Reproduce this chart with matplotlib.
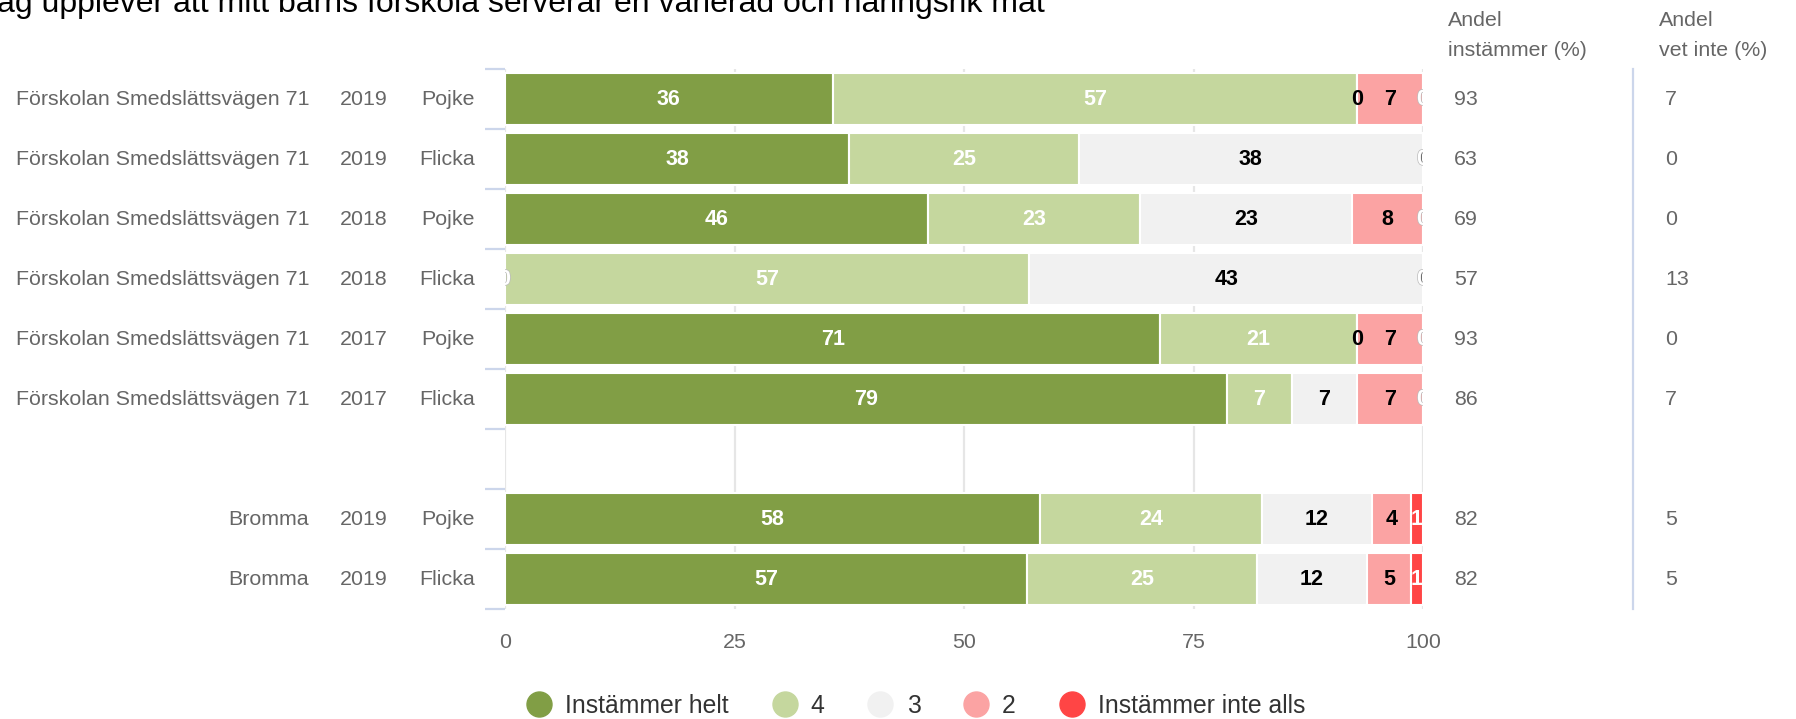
import matplotlib
matplotlib.use("Agg")
from matplotlib import pyplot as plt
from matplotlib.lines import Line2D
import matplotlib.patheffects as pe

# data
skolor = ["Förskolan Smedslättsvägen 71"] * 6 + ["Bromma"] * 2
ar = ["2019", "2019", "2018", "2018", "2017", "2017", "2019", "2019"]
kon = ["Pojke", "Flicka", "Pojke", "Flicka", "Pojke", "Flicka", "Pojke", "Flicka"]
rader = [0, 1, 2, 3, 4, 5, 7, 8]  # rad 6 är tom

helt = [35.7, 37.5, 46.1, 0, 71.4, 78.6, 58.3, 56.9]
fyra = [57.1, 25.0, 23.1, 57.1, 21.4, 7.1, 24.2, 25.0]
tre = [0, 37.5, 23.1, 42.9, 0, 7.1, 11.9, 12.0]
tva = [7.2, 0, 7.7, 0, 7.2, 7.2, 4.3, 4.8]
inte_alls = [0, 0, 0, 0, 0, 0, 1.3, 1.3]

andel_instammer = [93, 63, 69, 57, 93, 86, 82, 82]
andel_vet_inte = [7, 0, 0, 13, 0, 7, 5, 5]

serier = ["Instämmer helt", "4", "3", "2", "Instämmer inte alls"]
farger = ["#819e45", "#c5d79e", "#f1f1f1", "#fba3a3", "#ff4545"]
textfarger = ["white", "white", "black", "black", "white"]

titel = "Jag upplever att mitt barns förskola serverar en varierad och näringsrik mat"

plt.rcParams['font.family'] = ['Liberation Sans', 'DejaVu Sans']

W, H = 1796, 719
fig = plt.figure(figsize=(W / 100, H / 100), dpi=100)
x0, x1, ytop, ybot = 505, 1423, 69.3, 609.3
ax = fig.add_axes([x0 / W, 1 - ybot / H, (x1 - x0) / W, (ybot - ytop) / H])

grå = "#666666"
blå = "#ccd6eb"
fs = 15.4

vanster = [0] * len(rader)
for data, namn, farg, tf in zip([helt, fyra, tre, tva, inte_alls], serier, farger, textfarger):
    ax.barh(rader, data, left=vanster, height=0.87, color=farg, edgecolor="white",
            linewidth=1.5, label=namn, zorder=2)
    for r, v, l in zip(rader, data, vanster):
        t = ax.text(l + v / 2, r, str(int(round(v))), ha="center", va="center",
                    color=tf, fontsize=15.5, fontweight="bold", zorder=3, clip_on=True)
        if v == 0 and tf == "white":
            t.set_path_effects([pe.withStroke(linewidth=1, foreground="#bbbbbb")])
    vanster = [a + b for a, b in zip(vanster, data)]

ax.set_xlim(0, 100)
ax.set_ylim(8.5, -0.5)
ax.set_xticks([0, 25, 50, 75, 100])
ax.tick_params(axis="x", length=0, pad=17, labelsize=fs, labelcolor=grå)
ax.grid(axis="x", color="#e6e6e6", linewidth=1.6)
ax.set_axisbelow(True)
ax.set_yticks([])
ax.set_yticks([i - 0.5 for i in range(10)], minor=True)
ax.tick_params(axis="y", which="minor", length=14.5, width=1.6, color=blå)
for s in ax.spines.values():
    s.set_visible(False)

# etiketter till vänster och kolumner till höger
tr = ax.get_yaxis_transform()
def fx(px):
    return (px - x0) / (x1 - x0)

for r, s, a, k, ai, av in zip(rader, skolor, ar, kon, andel_instammer, andel_vet_inte):
    ax.text(fx(309), r, s, transform=tr, ha="right", va="center", fontsize=fs, color=grå)
    ax.text(fx(340), r, a, transform=tr, ha="left", va="center", fontsize=fs, color=grå)
    ax.text(fx(475), r, k, transform=tr, ha="right", va="center", fontsize=fs, color=grå)
    ax.text(fx(1454), r, str(ai), transform=tr, ha="left", va="center", fontsize=fs, color=grå)
    ax.text(fx(1665), r, str(av), transform=tr, ha="left", va="center", fontsize=fs, color=grå)

ax.add_line(Line2D([fx(1633), fx(1633)], [0, 1], transform=ax.transAxes, color=blå,
                   linewidth=1.6, clip_on=False))

fig.text(1448 / W, 1 - 20 / H, "Andel", ha="left", va="center", fontsize=fs, color=grå)
fig.text(1448 / W, 1 - 50 / H, "instämmer (%)", ha="left", va="center", fontsize=fs, color=grå)
fig.text(1659 / W, 1 - 20 / H, "Andel", ha="left", va="center", fontsize=fs, color=grå)
fig.text(1659 / W, 1 - 50 / H, "vet inte (%)", ha="left", va="center", fontsize=fs, color=grå)

fig.text(1045 / W, 1 - 12 / H, titel, ha="right", va="baseline", fontsize=23, color="black")

handtag = [Line2D([], [], marker="o", linestyle="", markersize=18, markerfacecolor=f,
                  markeredgecolor=f) for f in farger]
fig.legend(handtag, serier, loc="center", bbox_to_anchor=(916 / W, 1 - 706 / H), ncol=5,
           frameon=False, fontsize=17.8, labelcolor="#333333", handlelength=1.0,
           handletextpad=0.56, columnspacing=1.75, borderpad=0)

fig.savefig("out.png", dpi=100)
